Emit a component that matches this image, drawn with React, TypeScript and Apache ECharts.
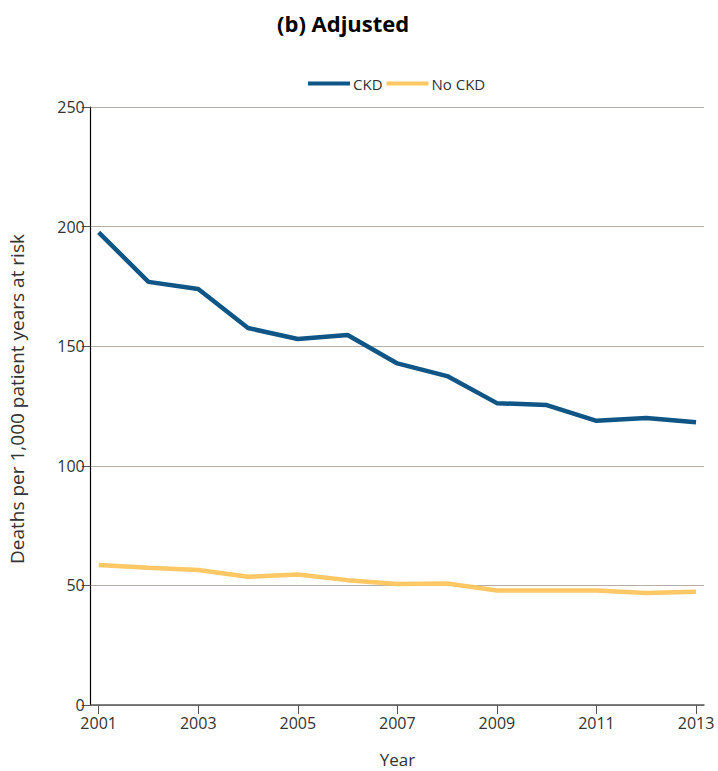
import React, { useEffect, useRef } from "react";
import * as echarts from "echarts";

const years = [2001, 2002, 2003, 2004, 2005, 2006, 2007, 2008, 2009, 2010, 2011, 2012, 2013];
const ckd = [197.6, 176.9, 173.9, 157.6, 153.0, 154.7, 142.8, 137.5, 126.2, 125.4, 118.8, 120.0, 118.2];
const noCkd = [58.5, 57.4, 56.4, 53.6, 54.6, 52.2, 50.6, 50.8, 47.9, 47.9, 47.9, 46.8, 47.3];
const xTickLabels = [2001, 2003, 2005, 2007, 2009, 2011, 2013];
const yTicks = [0, 50, 100, 150, 200, 250];

const FONT = "'Open Sans', 'Noto Sans', sans-serif";

export default function App() {
  const ref = useRef<HTMLDivElement>(null);
  useEffect(() => {
    if (!ref.current) return;
    const chart = echarts.init(ref.current, null, { renderer: "svg" });
    chart.setOption({
      animation: false,
      backgroundColor: "#ffffff",
      textStyle: { fontFamily: FONT },
      title: {
        text: "(b) Adjusted",
        left: 272,
        top: 7,
        textStyle: { fontFamily: FONT, fontSize: 22, fontWeight: "bold", color: "#000" },
      },
      legend: {
        left: 303,
        top: 71,
        icon: "rect",
        itemWidth: 42,
        itemHeight: 4,
        itemGap: 4,
        textStyle: { fontFamily: FONT, fontSize: 15, color: "#333", padding: [0, 0, 0, -2] },
        data: ["CKD", "No CKD"],
      },
      grid: {
        left: 90.7,
        right: 14,
        top: 107,
        bottom: 66,
        containLabel: false,
        outerBoundsMode: "none",
      },
      xAxis: {
        type: "value",
        min: 2000.84,
        max: 2013.16,
        name: "Year",
        nameLocation: "middle",
        nameGap: 46,
        nameTextStyle: { fontFamily: FONT, fontSize: 17, color: "#333" },
        splitLine: { show: false },
        axisLine: { show: true, lineStyle: { color: "#555", width: 1.5 } },
        axisTick: {
          show: true,
          length: 9,
          customValues: xTickLabels,
          lineStyle: { color: "#555", width: 1 },
        },
        axisLabel: {
          customValues: xTickLabels,
          formatter: (v: number) => String(Math.round(v)),
          fontFamily: FONT,
          fontSize: 16,
          color: "#333",
          margin: 10,
        },
      },
      yAxis: {
        type: "value",
        min: 0,
        max: 250,
        interval: 50,
        name: "Deaths per 1,000 patient years at risk",
        nameLocation: "middle",
        nameGap: 64,
        nameTextStyle: { fontFamily: FONT, fontSize: 19, color: "#333", padding: [0, 0, 0, 14] },
        axisLine: { show: true, lineStyle: { color: "#000", width: 1.2 } },
        axisTick: { show: true, length: 9, lineStyle: { color: "#555", width: 1 } },
        axisLabel: {
          fontFamily: FONT,
          fontSize: 16,
          color: "#333",
          margin: 6,
          customValues: yTicks,
        },
        splitLine: { show: true, lineStyle: { color: "#b5ada6", width: 1 } },
      },
      series: [
        {
          name: "CKD",
          type: "line",
          data: years.map((y, i) => [y, ckd[i]]),
          symbol: "none",
          lineStyle: { color: "#0f5585", width: 4.5 },
          itemStyle: { color: "#0f5585" },
        },
        {
          name: "No CKD",
          type: "line",
          data: years.map((y, i) => [y, noCkd[i]]),
          symbol: "none",
          lineStyle: { color: "#ffc865", width: 4.5 },
          itemStyle: { color: "#ffc865" },
        },
      ],
    });
    return () => chart.dispose();
  }, []);
  return <div ref={ref} style={{ width: 718, height: 771, position: "absolute", left: 0, top: 0 }} />;
}
